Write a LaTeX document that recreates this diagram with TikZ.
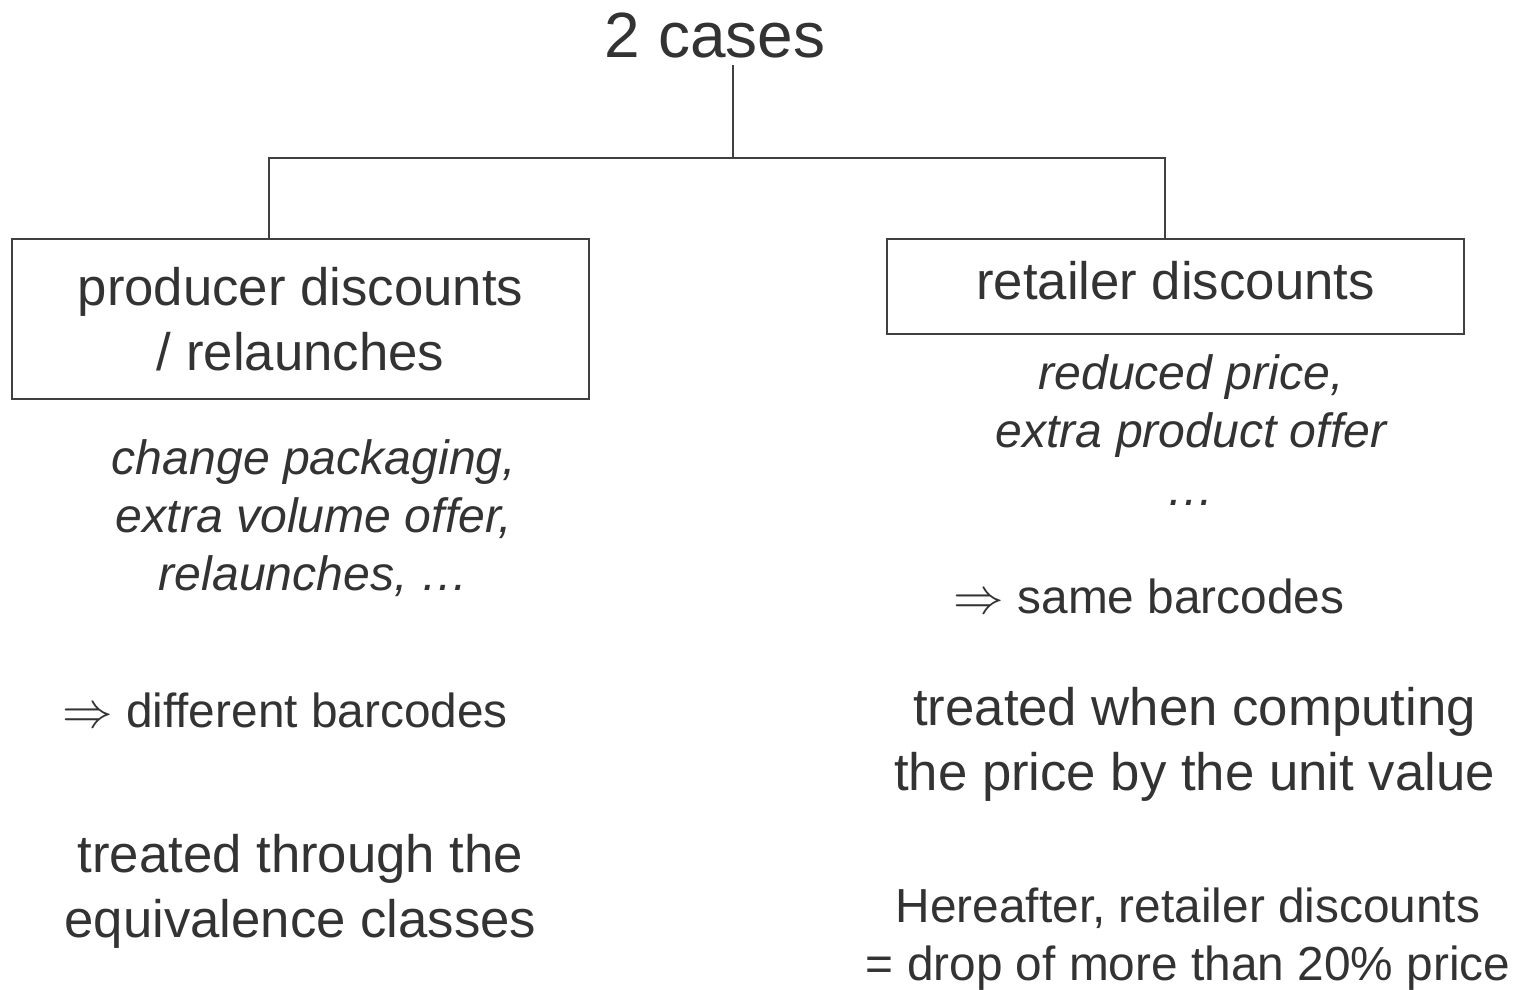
\documentclass[tikz,border=0pt]{standalone}
\usepackage{fontspec}
\setmainfont{Liberation Sans}
\definecolor{txtgray}{HTML}{333333}
\definecolor{linegray}{HTML}{404040}
\tikzstyle{every node}=[text=txtgray,align=center,inner sep=0pt]
\tikzstyle{box} = [draw=linegray,line width=0.6pt,minimum width=5.77cm]
\tikzstyle{link} = [draw=linegray,line width=0.6pt]
\tikzstyle{big} = [font=\fontsize{15}{18.3}\selectfont]
\tikzstyle{small} = [font=\fontsize{13.6}{16.4}\selectfont]
\tikzstyle{note} = [font=\fontsize{13.7}{16.4}\selectfont\itshape]

\begin{document}
\begin{tikzpicture}

\useasboundingbox (0,0) rectangle (15.19,-9.89);

% title and boxes
\node[font=\fontsize{18.2}{21}\selectfont,anchor=base] (title) at (7.15,-0.57) {2 cases};
\node[box,big,minimum height=1.60cm] (prod) at (3.005,-3.19) {producer discounts\\/ relaunches};
\node[box,big,minimum height=0.95cm,text depth=0.12cm] (ret) at (11.755,-2.865) {retailer discounts};

% tree
\coordinate (top) at (7.33,-0.65);
\coordinate (fork) at (7.33,-1.58);
\coordinate (lft) at (2.69,-1.58);
\coordinate (rgt) at (11.65,-1.58);
\draw[link] (top) -- (fork);
\draw[link] (lft |- prod.north) -- (lft) -- (rgt) -- (rgt |- ret.north);

% left column
\node[note,anchor=base] (prodex) at (3.14,-5.90) {change packaging,\\extra volume offer,\\relaunches, \dots};
\node[small,anchor=base] (diffbc) at (2.85,-7.27) {$\Rightarrow$ different barcodes};
\node[big,anchor=base] (prodtr) at (3.005,-9.37) {treated through the\\equivalence classes};

% right column
\node[note,anchor=base] (retex) at (11.91,-5.05) {reduced price,\\extra product offer\\\dots};
\node[small,anchor=base] (samebc) at (11.49,-6.13) {$\Rightarrow$ same barcodes};
\node[big,anchor=base] (rettr) at (11.945,-7.90) {treated when computing\\the price by the unit value};
\node[small,anchor=base] (hereafter) at (11.88,-9.80) {Hereafter, retailer discounts\\= drop of more than 20\% price};

\end{tikzpicture}
\end{document}
